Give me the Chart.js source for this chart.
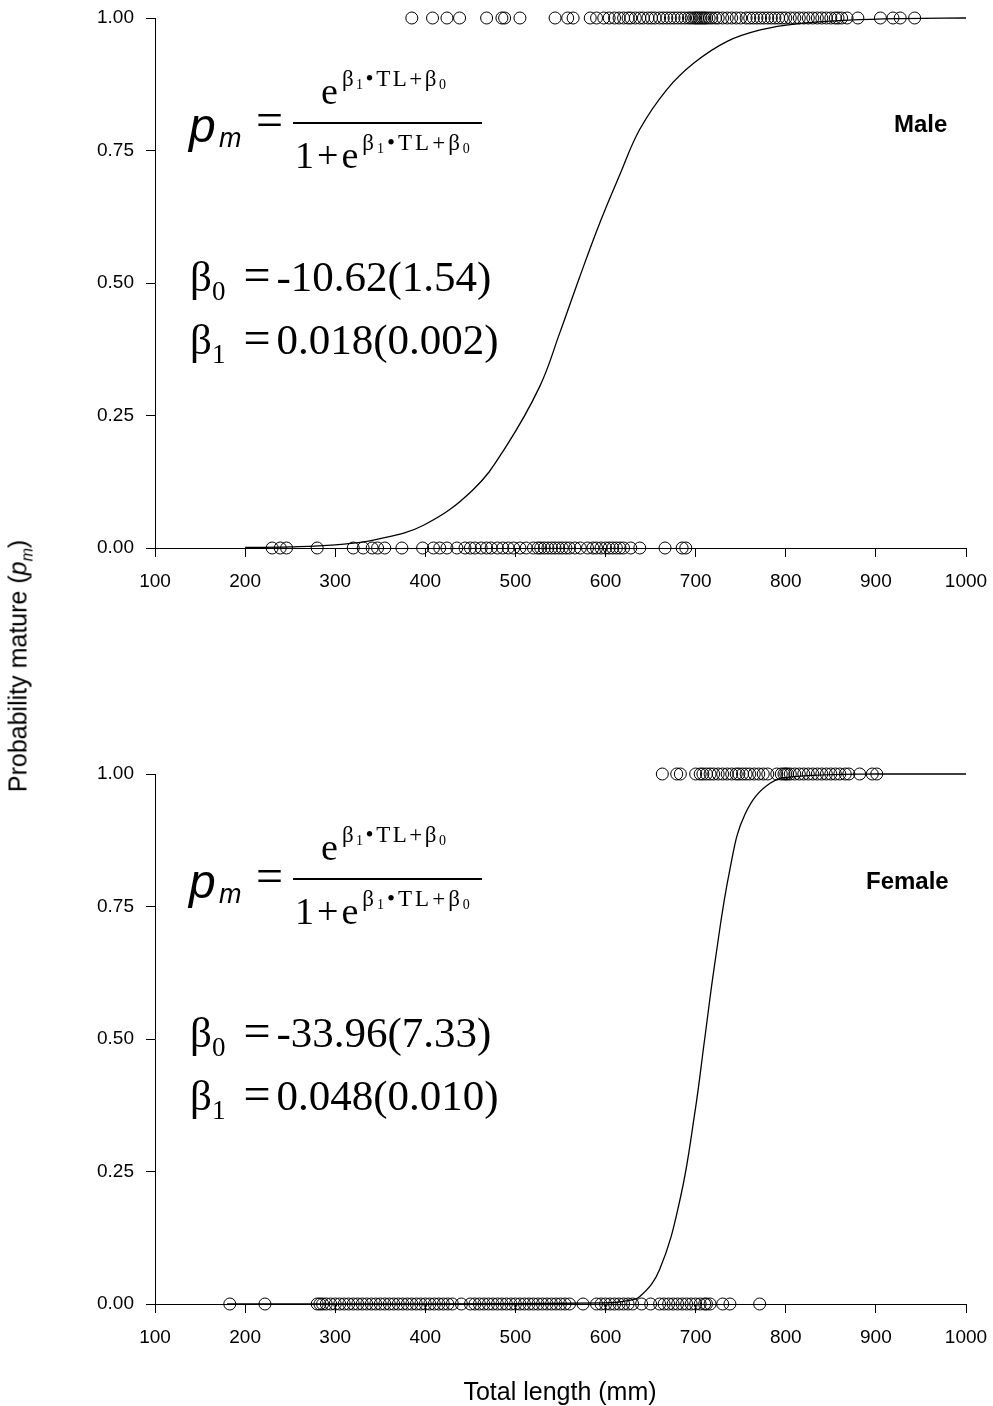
<!DOCTYPE html>
<html>
<head>
<meta charset="utf-8">
<script src="https://cdn.jsdelivr.net/npm/chart.js@4.4.1/dist/chart.umd.min.js"></script>
<style>
body { margin: 0; background: #fff; }
#page { position: relative; width: 993px; height: 1406px; overflow: hidden; font-family: "Liberation Sans", Arial, sans-serif; color: #000; }
.box { position: absolute; left: 0; width: 993px; height: 703px; }
.eq { position: absolute; left: 0; width: 993px; height: 400px; }
.eq div { position: absolute; white-space: nowrap; line-height: 1; }
.pm { font-style: italic; font-size: 48px; }
.pmsub { font-style: italic; font-size: 27px; }
.serif { font-family: "Liberation Serif", "Times New Roman", serif; }
.bar { height: 2px; background: #000; }
.big { font-size: 38px; }
.plus { margin: 0 3px; }
.sup { font-size: 23px; position: relative; top: -18px; margin-left: 4px; letter-spacing: 2.5px; }
.den .sup { letter-spacing: 3px; }
.sup sub { font-size: 14px; vertical-align: -3px; }
.beta { font-size: 43px; }
.bsub { font-size: 27px; vertical-align: -9px; }
.op { font-size: 48px; margin: 0 6px 0 18px; }
.tag { font-weight: bold; font-size: 24px; }
.title { position: absolute; font-size: 25px; white-space: nowrap; transform: translate(-50%, -50%); }
.title sub { font-size: 16px; }
</style>
</head>
<body>
<div id="page">
  <div class="box" style="top:0"><canvas id="maleChart" width="993" height="703"></canvas></div>
  <div class="box" style="top:703px"><canvas id="femaleChart" width="993" height="703"></canvas></div>

  <div class="eq" style="top:0">
    <div class="pm" style="left:189px;top:102px">p</div>
    <div class="pmsub" style="left:219px;top:125px">m</div>
    <div class="serif op" style="left:256px;top:96px;margin:0">=</div>
    <div class="bar" style="left:293px;top:122px;width:189px"></div>
    <div class="serif" style="left:321px;top:72px"><span class="big">e</span><span class="sup">β<sub>1</sub>•TL+β<sub>0</sub></span></div>
    <div class="serif den" style="left:295px;top:136px"><span class="big">1<span class="plus">+</span>e</span><span class="sup">β<sub>1</sub>•TL+β<sub>0</sub></span></div>
    <div class="serif beta" style="left:190px;top:251px">β<span class="bsub">0</span><span class="op">=</span>-10.62(1.54)</div>
    <div class="serif beta" style="left:190px;top:314px">β<span class="bsub">1</span><span class="op">=</span>0.018(0.002)</div>
    <div class="tag" style="left:894px;top:112px">Male</div>
  </div>

  <div class="eq" style="top:756px">
    <div class="pm" style="left:189px;top:102px">p</div>
    <div class="pmsub" style="left:219px;top:125px">m</div>
    <div class="serif op" style="left:256px;top:96px;margin:0">=</div>
    <div class="bar" style="left:293px;top:122px;width:189px"></div>
    <div class="serif" style="left:321px;top:72px"><span class="big">e</span><span class="sup">β<sub>1</sub>•TL+β<sub>0</sub></span></div>
    <div class="serif den" style="left:295px;top:136px"><span class="big">1<span class="plus">+</span>e</span><span class="sup">β<sub>1</sub>•TL+β<sub>0</sub></span></div>
    <div class="serif beta" style="left:190px;top:251px">β<span class="bsub">0</span><span class="op">=</span>-33.96(7.33)</div>
    <div class="serif beta" style="left:190px;top:314px">β<span class="bsub">1</span><span class="op">=</span>0.048(0.010)</div>
    <div class="tag" style="left:866px;top:113px">Female</div>
  </div>

  <div class="title" style="left:20px;top:666px;transform:translate(-50%,-50%) rotate(-90deg)">Probability mature (<i>p<sub>m</sub></i>)</div>
  <div class="title" style="left:560px;top:1391px">Total length (mm)</div>
</div>

<script>
// tick labels
const xTicks = [100, 200, 300, 400, 500, 600, 700, 800, 900, 1000];
const yTicks = [0, 0.25, 0.5, 0.75, 1];

// male observations (total length, mm)
const maleMatureTL = [385, 408, 424, 438, 468, 485, 488, 505, 544, 558, 564,
  583, 590, 598, 604, 610, 615, 620, 625, 628, 633, 638, 642, 647, 651, 655, 660,
  664, 668, 672, 676, 680, 684, 688, 692, 695, 698, 700, 702, 704, 706, 708, 710,
  712, 715, 718, 722, 725, 730, 735, 740, 745, 750, 756, 760, 764, 768, 772, 776,
  780, 784, 788, 792, 796, 800, 805, 810, 815, 820, 825, 830, 835, 840, 845, 850,
  855, 858, 862, 868, 880, 905, 919, 927, 943];
const maleImmatureTL = [230, 239, 246, 280, 320, 331, 341, 347, 355, 374, 397,
  409, 416, 424, 435, 444, 450, 455, 462, 468, 473, 480, 486, 492, 498, 505, 512,
  520, 525, 528, 532, 536, 540, 544, 548, 552, 556, 560, 566, 572, 580, 586, 590,
  595, 600, 604, 608, 612, 616, 620, 628, 638, 666, 685, 689];
// fitted male curve
const maleCurveTL = [200, 250, 300, 345, 398, 453, 489, 527, 549, 571, 594, 616, 638, 668, 698, 735, 773, 812, 870, 930, 1000];
const maleCurveP = [0.001, 0.002, 0.006, 0.016, 0.043, 0.11, 0.19, 0.305, 0.405, 0.51, 0.615, 0.705, 0.79, 0.865, 0.915, 0.956, 0.978, 0.989, 0.996, 0.999, 1.0];

// female observations
const femaleMatureTL = [663, 679, 683, 700, 705, 708, 712, 716, 720, 725, 730, 735,
  740, 745, 748, 752, 756, 760, 765, 770, 775, 780, 790, 795, 798, 800, 802, 805,
  810, 815, 820, 825, 830, 835, 840, 845, 850, 855, 860, 866, 870, 882, 896, 901];
const femaleImmatureTL = [183, 222, 280, 283, 286, 290, 295, 300, 305, 310, 315,
  320, 325, 330, 335, 340, 345, 350, 355, 360, 365, 370, 375, 380, 385, 390, 395,
  400, 405, 410, 415, 420, 425, 430, 440, 450, 455, 460, 465, 470, 475, 480, 485,
  490, 495, 500, 505, 510, 515, 520, 525, 530, 535, 540, 545, 550, 555, 560, 575,
  590, 595, 600, 605, 610, 615, 620, 625, 630, 640, 650, 660, 665, 670, 675, 680,
  685, 690, 695, 700, 705, 710, 712, 716, 730, 738, 771];
const femaleCurveTL = [180, 400, 600, 620, 638, 660, 683, 699, 710, 721, 738, 755, 783, 816, 900, 1000];
const femaleCurveP = [0, 0, 0.002, 0.005, 0.014, 0.065, 0.2, 0.36, 0.5, 0.64, 0.82, 0.925, 0.983, 0.996, 1, 1];

const tickFont = { family: 'Liberation Sans', size: 19 };

function makeChart(id, matureTL, immatureTL, curveTL, curveP, padTop, xAxisH) {
    const ctx = document.getElementById(id).getContext('2d');
    return new Chart(ctx, {
        type: 'scatter',
        data: {
            datasets: [{
                data: matureTL.map(v => ({ x: v, y: 1 })),
                pointRadius: 6,
                pointBorderWidth: 1,
                borderColor: '#000',
                backgroundColor: 'rgba(0,0,0,0)',
                clip: false
            }, {
                data: immatureTL.map(v => ({ x: v, y: 0 })),
                pointRadius: 6,
                pointBorderWidth: 1,
                borderColor: '#000',
                backgroundColor: 'rgba(0,0,0,0)',
                clip: false
            }, {
                type: 'line',
                data: curveTL.map((v, i) => ({ x: v, y: curveP[i] })),
                borderColor: '#000',
                borderWidth: 1.3,
                pointRadius: 0,
                fill: false,
                tension: 0.4,
                clip: false
            }]
        },
        options: {
            responsive: false,
            animation: false,
            layout: { padding: { top: padTop, right: 27, left: 0, bottom: 0 } },
            plugins: { legend: { display: false }, tooltip: { enabled: false } },
            scales: {
                x: {
                    type: 'linear',
                    min: 100,
                    max: 1000,
                    afterBuildTicks: s => { s.ticks = xTicks.map(v => ({ value: v })); },
                    afterFit: s => { s.height = xAxisH; s.paddingLeft = 0; s.paddingRight = 0; },
                    ticks: { color: '#000', font: tickFont, padding: 13, maxRotation: 0, callback: v => String(v) },
                    grid: { drawOnChartArea: false, tickLength: 9, color: '#000' },
                    border: { color: '#000', width: 1 }
                },
                y: {
                    min: 0,
                    max: 1,
                    afterBuildTicks: s => { s.ticks = yTicks.map(v => ({ value: v })); },
                    afterFit: s => { s.width = 155; s.paddingTop = 0; s.paddingBottom = 0; },
                    ticks: { color: '#000', font: tickFont, padding: 12, callback: v => v.toFixed(2) },
                    grid: { drawOnChartArea: false, tickLength: 9, color: '#000' },
                    border: { color: '#000', width: 1 }
                }
            }
        }
    });
}

makeChart('maleChart', maleMatureTL, maleImmatureTL, maleCurveTL, maleCurveP, 18, 155);
makeChart('femaleChart', femaleMatureTL, femaleImmatureTL, femaleCurveTL, femaleCurveP, 71, 102);
</script>
</body>
</html>
